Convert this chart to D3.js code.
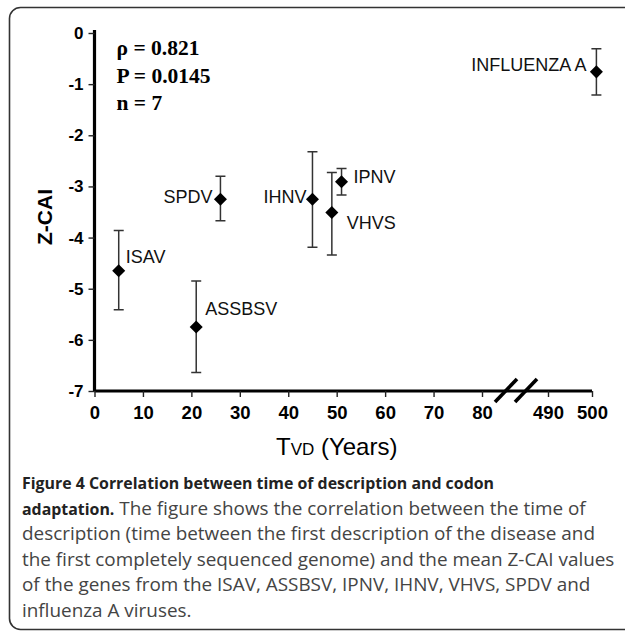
<!DOCTYPE html>
<html>
<head>
<meta charset="utf-8">
<script src="https://cdn.jsdelivr.net/npm/d3@7"></script>
<style>
  body { margin: 0; background: #fff; }
  svg { display: block; }
</style>
</head>
<body>
<div id="fig"></div>
<script>
// Data
var viruses = ["ISAV", "ASSBSV", "SPDV", "IHNV", "IPNV", "VHVS", "INFLUENZA A"]
var tvd     = [5, 21, 26, 45, 51, 49, 501]
var zcai    = [-4.65, -5.75, -3.25, -3.25, -2.91, -3.51, -0.76]
var errHigh = [-3.86, -4.85, -2.80, -2.32, -2.65, -2.73, -0.31]
var errLow  = [-5.41, -6.64, -3.67, -4.19, -3.17, -4.34, -1.21]

var xTicks = [0, 10, 20, 30, 40, 50, 60, 70, 80, 490, 500]
var yTicks = [0, -1, -2, -3, -4, -5, -6, -7]

var stats = ["\u03c1 = 0.821", "P = 0.0145", "n = 7"]

var caption = [
  ["Figure 4 Correlation between time of description and codon", ""],
  ["adaptation.", " The figure shows the correlation between the time of"],
  ["", "description (time between the first description of the disease and"],
  ["", "the first completely sequenced genome) and the mean Z-CAI values"],
  ["", "of the genes from the ISAV, ASSBSV, IPNV, IHNV, VHVS, SPDV and"],
  ["", "influenza A viruses."]
]

// label placement relative to each point (anchor, dx, dy)
var labelPos = [
  ["start", 7, -8],
  ["start", 9, -12],
  ["end", -8, 4],
  ["end", -6, 4],
  ["start", 12, 1],
  ["start", 15, 16],
  ["end", -10, -1]
]

var W = 625, H = 634
var SANS = "'Liberation Sans', Arial, Helvetica, sans-serif"

var svg = d3.select("#fig").append("svg")
  .attr("width", W).attr("height", H)

// panel border
svg.append("rect")
  .attr("x", 9.5).attr("y", 7.5)
  .attr("width", 700).attr("height", 622)
  .attr("rx", 11).attr("ry", 11)
  .attr("fill", "none")
  .attr("stroke", "#333").attr("stroke-width", 1.6)

// scales (broken x axis: piecewise linear)
var x = d3.scaleLinear().domain([0, 80, 490, 500]).range([94.5, 482, 548, 592])
var y = d3.scaleLinear().domain([0, -7]).range([33, 391])

var fmt = function (d) { return String(d) }

// y axis
var gy = svg.append("g")
  .attr("transform", "translate(94.5,0)")
  .call(d3.axisLeft(y).tickValues(yTicks).tickSize(6).tickPadding(5).tickFormat(fmt))
gy.select(".domain").attr("d", "M0," + (y(0) - 3) + "V" + y(-7))
  .attr("stroke", "#000").attr("stroke-width", 3.2)
gy.selectAll(".tick line").attr("stroke", "#222").attr("stroke-width", 1.4)
gy.selectAll(".tick text")
  .style("font-family", SANS)
  .attr("font-weight", "bold").attr("font-size", 17).attr("fill", "#000")

// x axis
var gx = svg.append("g")
  .attr("transform", "translate(0," + y(-7) + ")")
  .call(d3.axisBottom(x).tickValues(xTicks).tickSize(6).tickPadding(9).tickFormat(fmt))
gx.select(".domain").attr("d", "M" + x(0) + ",0H" + x(500))
  .attr("stroke", "#000").attr("stroke-width", 3.2)
gx.selectAll(".tick line").attr("stroke", "#222").attr("stroke-width", 1.4)
gx.selectAll(".tick text")
  .style("font-family", SANS)
  .attr("font-weight", "bold").attr("font-size", 18.5).attr("fill", "#000")

// axis break marks
var brk = (x(80) + x(490)) / 2
;[-9, 11].forEach(function (o) {
  svg.append("line")
    .attr("x1", brk + o - 11).attr("y1", y(-7) + 11)
    .attr("x2", brk + o + 11).attr("y2", y(-7) - 12)
    .attr("stroke", "#000").attr("stroke-width", 3.6)
})

// axis titles
svg.append("text")
  .attr("transform", "translate(52," + ((y(0) + y(-7)) / 2 + 5) + ") rotate(-90)")
  .attr("text-anchor", "middle")
  .style("font-family", SANS)
  .attr("font-weight", "bold").attr("font-size", 21)
  .text("Z-CAI")

var xt = svg.append("text")
  .attr("x", 276).attr("y", 455)
  .style("font-family", SANS)
  .attr("font-size", 24).attr("fill", "#000")
xt.append("tspan").text("T")
xt.append("tspan").attr("font-size", 17).text("VD")
xt.append("tspan").text(" (Years)")

// stats
svg.append("g").selectAll("text").data(stats).join("text")
  .attr("x", 116.5).attr("y", function (d, i) { return 55 + i * 27.5 })
  .style("font-family", "'Liberation Serif', 'Times New Roman', serif")
  .attr("font-weight", "bold").attr("font-size", 21.5)
  .text(function (d) { return d })

// error bars + points
var idx = d3.range(viruses.length)
var gp = svg.append("g")
gp.selectAll("path.err").data(idx).join("path")
  .attr("class", "err")
  .attr("d", function (i) {
    var cx = x(tvd[i]), t = y(errHigh[i]), b = y(errLow[i])
    return "M" + (cx - 5) + "," + t + "H" + (cx + 5) +
           "M" + cx + "," + t + "V" + b +
           "M" + (cx - 5) + "," + b + "H" + (cx + 5)
  })
  .attr("fill", "none").attr("stroke", "#333").attr("stroke-width", 1.5)

gp.selectAll("path.pt").data(idx).join("path")
  .attr("class", "pt")
  .attr("transform", function (i) { return "translate(" + x(tvd[i]) + "," + y(zcai[i]) + ")" })
  .attr("d", d3.symbol(d3.symbolDiamond2, 108))
  .attr("fill", "#000")

gp.selectAll("text").data(idx).join("text")
  .attr("x", function (i) { return x(tvd[i]) + labelPos[i][1] })
  .attr("y", function (i) { return y(zcai[i]) + labelPos[i][2] })
  .attr("text-anchor", function (i) { return labelPos[i][0] })
  .style("font-family", SANS)
  .attr("font-size", 18).attr("fill", "#111")
  .text(function (i) { return viruses[i] })

// caption
var cap = svg.append("g")
caption.forEach(function (ln, i) {
  var t = cap.append("text")
    .attr("x", 22).attr("y", 489 + i * 25.5)
    .style("font-family", "'Open Sans', 'Noto Sans', sans-serif")
  if (ln[0]) t.append("tspan").attr("font-weight", "bold").attr("font-size", 15.9).attr("fill", "#222").text(ln[0])
  if (ln[1]) t.append("tspan").attr("font-size", 18.9).attr("fill", "#444").text(ln[1])
})
</script>
</body>
</html>
